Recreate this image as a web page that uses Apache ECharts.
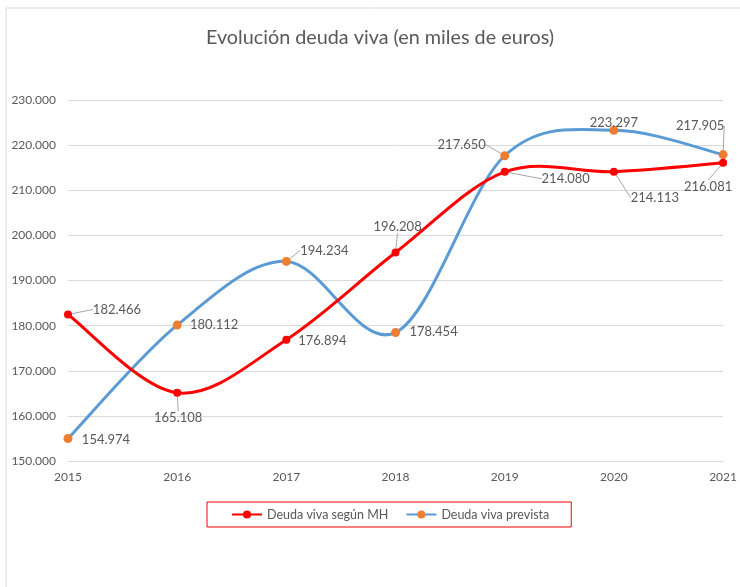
<!DOCTYPE html>
<html>
<head>
<meta charset="utf-8">
<script src="https://cdn.jsdelivr.net/npm/echarts@6/dist/echarts.min.js"></script>
<style>
	html, body { margin: 0; padding: 0; background: #fff; }
	#chart { width: 740px; height: 587px; }
</style>
</head>
<body>
<div id="chart"></div>
<script>
var years = [ '2015', '2016', '2017', '2018', '2019', '2020', '2021' ];
var deudaMH = [ 182466, 165108, 176894, 196208, 214080, 214113, 216081 ];
var deudaPrevista = [ 154974, 180112, 194234, 178454, 217650, 223297, 217905 ];
var yTicks = [ 150000, 230000, 10000 ]; // min, max, step

// label offsets from the point (px), and whether Excel drew a leader line
var offMH = [ [ 49, -5 ], [ 1, 25 ], [ 36, 1 ], [ 2, -26 ], [ 61, 7 ], [ 41, 26 ], [ -15, 24 ] ];
var leadMH = [ true, true, false, true, true, true, true ];
var offPrev = [ [ 38, 1 ], [ 37, 0 ], [ 38, -11 ], [ 38, -1 ], [ -43, -11 ], [ 0, -7 ], [ -23, -29 ] ];
var leadPrev = [ false, false, true, false, true, false, true ];

var fmt = function(v) {
	return String(v).replace(/\B(?=(\d{3})+(?!\d))/g, '.');
};

var buildData = function(values, leads) {
	return values.map(function(v, i) {
		return {
			value : v,
			labelLine : {
				show : leads[i]
			}
		};
	});
};

// Excel style smoothed line: one bezier per segment, control points from neighbours / 6
var excelCurve = function(values, color, z) {
	return {
		type : 'custom',
		z : z,
		silent : true,
		data : values.map(function(v, i) { return [ i, v ]; }),
		renderItem : function(params, api) {
			var i = params.dataIndex;
			var n = values.length;
			if (i >= n - 1) return null;
			var pt = function(k) {
				k = Math.max(0, Math.min(n - 1, k));
				return api.coord([ k, values[k] ]);
			};
			var p0 = pt(i - 1), p1 = pt(i), p2 = pt(i + 1), p3 = pt(i + 2);
			return {
				type : 'bezierCurve',
				shape : {
					x1 : p1[0], y1 : p1[1],
					x2 : p2[0], y2 : p2[1],
					cpx1 : p1[0] + (p2[0] - p0[0]) / 6,
					cpy1 : p1[1] + (p2[1] - p0[1]) / 6,
					cpx2 : p2[0] - (p3[0] - p1[0]) / 6,
					cpy2 : p2[1] - (p3[1] - p1[1]) / 6
				},
				style : {
					fill : 'none',
					stroke : color,
					lineWidth : 3,
					lineCap : 'round'
				}
			};
		}
	};
};

var chart = echarts.init(document.getElementById('chart'));
var font = 'Lato, "Open Sans", sans-serif';

var labelOpt = {
	show : true,
	position : 'inside',
	fontSize : 13,
	color : '#595959',
	fontFamily : font,
	formatter : function(p) { return fmt(p.value); }
};

var option = {
	backgroundColor : '#fff',
	animation : false,
	textStyle : {
		fontFamily : font
	},
	graphic : [ {
		type : 'rect',
		shape : { x : 6, y : 8, width : 800, height : 700 },
		style : { fill : 'none', stroke : '#d9d9d9', lineWidth : 1 },
		silent : true
	} ],
	title : {
		text : 'Evolución deuda viva (en miles de euros)',
		left : 375,
		textAlign : 'center',
		top : 23,
		textStyle : {
			fontFamily : font,
			fontWeight : 'normal',
			fontSize : 19.8,
			color : '#595959'
		}
	},
	legend : {
		left : 207,
		top : 502,
		borderColor : '#ff0000',
		borderWidth : 1,
		borderRadius : 0,
		padding : [ 6, 22, 6, 24 ],
		itemGap : 17,
		itemWidth : 30,
		itemHeight : 10,
		textStyle : {
			fontFamily : font,
			fontSize : 12.5,
			color : '#595959'
		},
		data : [ {
			name : 'Deuda viva según MH',
			lineStyle : { opacity : 1 }
		}, {
			name : 'Deuda viva prevista',
			lineStyle : { opacity : 1 }
		} ]
	},
	grid : {
		left : 68,
		right : 10,
		top : 100,
		bottom : 126
	},
	xAxis : {
		type : 'category',
		boundaryGap : false,
		data : years,
		axisLine : { lineStyle : { color : '#d9d9d9' } },
		axisTick : { show : false },
		axisLabel : {
			margin : 10,
			fontSize : 12,
			color : '#595959',
			fontFamily : font
		}
	},
	yAxis : {
		type : 'value',
		min : yTicks[0],
		max : yTicks[1],
		interval : yTicks[2],
		axisLine : { show : false },
		axisTick : { show : false },
		splitLine : { lineStyle : { color : '#d9d9d9' } },
		axisLabel : {
			margin : 12,
			fontSize : 12,
			color : '#595959',
			fontFamily : font,
			formatter : fmt
		}
	},
	series : [
		excelCurve(deudaPrevista, '#5b9bd5', 1),
		excelCurve(deudaMH, '#ff0000', 2),
		{
			name : 'Deuda viva según MH',
			type : 'line',
			data : buildData(deudaMH, leadMH),
			symbol : 'circle',
			symbolSize : 8,
			lineStyle : { color : '#ff0000', width : 3, opacity : 0 },
			itemStyle : { color : '#ff0000' },
			z : 4,
			label : labelOpt,
			labelLine : {
				lineStyle : { color : '#a6a6a6', width : 1 }
			},
			labelLayout : function(p) {
				return { dx : offMH[p.dataIndex][0], dy : offMH[p.dataIndex][1] };
			}
		}, {
			name : 'Deuda viva prevista',
			type : 'line',
			data : buildData(deudaPrevista, leadPrev),
			symbol : 'circle',
			symbolSize : 9,
			lineStyle : { color : '#5b9bd5', width : 3, opacity : 0 },
			itemStyle : { color : '#ed7d31' },
			z : 3,
			label : labelOpt,
			labelLine : {
				lineStyle : { color : '#a6a6a6', width : 1 }
			},
			labelLayout : function(p) {
				return { dx : offPrev[p.dataIndex][0], dy : offPrev[p.dataIndex][1] };
			}
		}
	]
};
chart.setOption(option);
</script>
</body>
</html>
